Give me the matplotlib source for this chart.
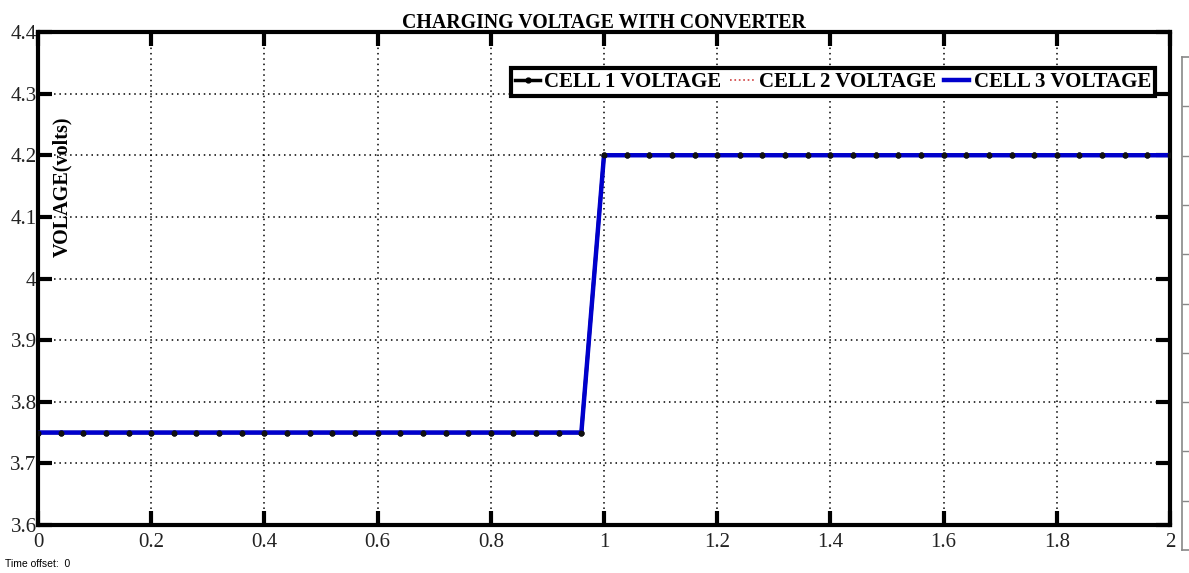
import matplotlib
matplotlib.use("Agg")
import matplotlib.pyplot as plt
from matplotlib.lines import Line2D

time_s = [0.00, 0.04, 0.08, 0.12, 0.16, 0.20, 0.24, 0.28, 0.32, 0.36,
          0.40, 0.44, 0.48, 0.52, 0.56, 0.60, 0.64, 0.68, 0.72, 0.76,
          0.80, 0.84, 0.88, 0.92, 0.96, 1.00, 1.04, 1.08, 1.12, 1.16,
          1.20, 1.24, 1.28, 1.32, 1.36, 1.40, 1.44, 1.48, 1.52, 1.56,
          1.60, 1.64, 1.68, 1.72, 1.76, 1.80, 1.84, 1.88, 1.92, 1.96, 2.00]
cell1_v = [3.75, 3.75, 3.75, 3.75, 3.75, 3.75, 3.75, 3.75, 3.75, 3.75,
           3.75, 3.75, 3.75, 3.75, 3.75, 3.75, 3.75, 3.75, 3.75, 3.75,
           3.75, 3.75, 3.75, 3.75, 3.75, 4.20, 4.20, 4.20, 4.20, 4.20,
           4.20, 4.20, 4.20, 4.20, 4.20, 4.20, 4.20, 4.20, 4.20, 4.20,
           4.20, 4.20, 4.20, 4.20, 4.20, 4.20, 4.20, 4.20, 4.20, 4.20, 4.20]
cell2_v = list(cell1_v)
cell3_v = list(cell1_v)

x_ticks = [0, 0.2, 0.4, 0.6, 0.8, 1, 1.2, 1.4, 1.6, 1.8, 2]
x_labels = ["0", "0.2", "0.4", "0.6", "0.8", "1", "1.2", "1.4", "1.6", "1.8", "2"]
y_ticks = [3.6, 3.7, 3.8, 3.9, 4.0, 4.1, 4.2, 4.3, 4.4]
y_labels = ["3.6", "3.7", "3.8", "3.9", "4", "4.1", "4.2", "4.3", "4.4"]

serif = ["Liberation Serif", "DejaVu Serif"]
plt.rcParams["font.family"] = serif

W, H = 1189, 573
fig = plt.figure(figsize=(W / 100, H / 100), dpi=100)

# partial second axes at the far right edge
ax2 = fig.add_axes([1182 / W, (H - 550) / H, 0.2, 493 / H])
for s in ax2.spines.values():
    s.set_color("#888888")
    s.set_linewidth(1.2)
ax2.set_xticks([])
ax2.set_yticks([i / 10 for i in range(1, 10)])
ax2.set_yticklabels([])
ax2.tick_params(axis="y", direction="in", length=6, color="#888888", width=1)
ax2.set_ylim(0, 1)

ax = fig.add_axes([38 / W, (H - 525) / H, (1170 - 38) / W, 493 / H])
ax.plot(time_s, cell1_v, color="black", lw=2.5, marker=".", markersize=7, zorder=2)
ax.plot(time_s, cell2_v, color="#d04040", lw=1.2, ls=":", zorder=3)
ax.plot(time_s, cell3_v, color="#0000cc", lw=3.2, zorder=4)
ax.plot(time_s, cell1_v, ls="none", color="#111111", marker=".", markersize=6.5, zorder=5)

ax.set_xlim(0, 2)
ax.set_ylim(3.6, 4.4)
ax.set_xticks(x_ticks)
ax.set_xticklabels(x_labels)
ax.set_yticks(y_ticks)
ax.set_yticklabels(y_labels)
ax.tick_params(direction="in", length=10, width=3, labelsize=15, top=True, right=True,
               colors="black", pad=1)
ax.tick_params(axis="x", pad=6)
for lab in ax.get_xticklabels() + ax.get_yticklabels():
    lab.set_color("#222222")
ax.grid(True, color="black", ls=(0, (1, 2.5)), lw=1.1)
for s in ax.spines.values():
    s.set_linewidth(3)

ax.set_title("CHARGING VOLTAGE WITH CONVERTER", fontsize=14.3, pad=3, fontweight="bold")
ax.text(0.013, 0.686, "VOLAGE(volts)", transform=ax.transAxes, rotation=90,
        fontsize=14.5, fontweight="bold", ha="left", va="center")

handles = [
    Line2D([], [], color="black", lw=2.5, marker=".", markersize=7),
    Line2D([], [], color="#d04040", lw=1.2, ls=":"),
    Line2D([], [], color="#0000cc", lw=3.2),
]
leg = ax.legend(handles, ["CELL 1 VOLTAGE", "CELL 2 VOLTAGE", "CELL 3 VOLTAGE"],
                loc="upper right", bbox_to_anchor=((1155 - 38) / 1132, (525 - 68) / 493),
                ncol=3, frameon=True, fancybox=False, framealpha=1, edgecolor="black",
                prop={"family": serif, "weight": "bold", "size": 15},
                handlelength=1.2, handletextpad=0.2, columnspacing=0.4,
                borderpad=0.2, borderaxespad=0)
leg.get_frame().set_linewidth(3)
leg.set_zorder(10)

fig.text(5 / W, 1 - 564 / H, "Time offset:  0", fontsize=7.5,
         family=["Liberation Sans", "DejaVu Sans"], va="center", ha="left")

fig.savefig("out.png", dpi=100)
